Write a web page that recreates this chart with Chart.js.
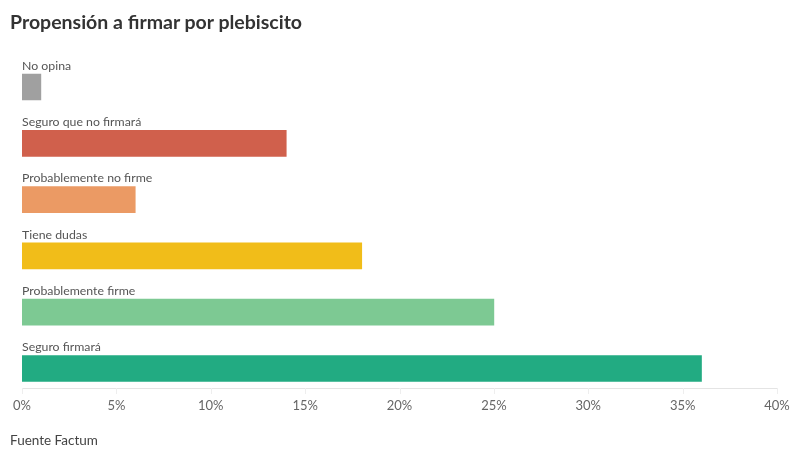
<!DOCTYPE html>
<html>
<head>
<meta charset="utf-8">
<script src="https://cdn.jsdelivr.net/npm/chart.js@4.4.1/dist/chart.umd.min.js"></script>
<style>
  html, body { margin: 0; padding: 0; background: #fff; }
  #wrap { position: relative; width: 800px; height: 459px; font-family: Lato, "Noto Sans", sans-serif; }
  #title { position: absolute; left: 10px; top: 10px; font-size: 19.5px; font-weight: bold; color: #333; }
  #source { position: absolute; left: 10px; top: 432px; font-size: 13.5px; color: #444; }
  canvas { position: absolute; left: 0; top: 0; }
</style>
</head>
<body>
<div id="wrap">
  <canvas id="myChart" width="800" height="459"></canvas>
  <div id="title">Propensión a firmar por plebiscito</div>
  <div id="source">Fuente Factum</div>
</div>
<script>
const categories = ['No opina', 'Seguro que no firmará', 'Probablemente no firme', 'Tiene dudas', 'Probablemente firme', 'Seguro firmará'];
const values = [1, 14, 6, 18, 25, 36];
const barColors = ['#a0a0a0', '#d0604c', '#eb9a64', '#f1bd19', '#7dc993', '#22ab82'];
const xTicks = [0, 5, 10, 15, 20, 25, 30, 35, 40];

// etiquetas encima de cada barra + linea del eje
const labelPlugin = {
    id: 'labelPlugin',
    afterDatasetsDraw(chart) {
        const ctx = chart.ctx;
        const area = chart.chartArea;
        const meta = chart.getDatasetMeta(0);
        ctx.save();
        ctx.font = '12.3px Lato, "Noto Sans", sans-serif';
        ctx.fillStyle = '#555';
        ctx.textAlign = 'left';
        ctx.textBaseline = 'bottom';
        meta.data.forEach((bar, i) => {
            ctx.fillText(categories[i], area.left, bar.y - bar.height / 2 - 2);
        });
        // eje x
        const axisY = area.bottom - 8.5;
        ctx.strokeStyle = '#e4e4e4';
        ctx.lineWidth = 1;
        ctx.beginPath();
        ctx.moveTo(area.left, Math.round(axisY) + 0.5);
        ctx.lineTo(area.right, Math.round(axisY) + 0.5);
        ctx.stroke();
        ctx.strokeStyle = '#eeeeee';
        xTicks.forEach(t => {
            const x = Math.round(chart.scales.x.getPixelForValue(t)) + 0.5;
            ctx.beginPath();
            ctx.moveTo(x, Math.round(axisY));
            ctx.lineTo(x, Math.round(axisY) + 6);
            ctx.stroke();
        });
        ctx.restore();
    }
};

const ctx = document.getElementById('myChart').getContext('2d');
const myChart = new Chart(ctx, {
    type: 'bar',
    data: {
        labels: categories,
        datasets: [{
            data: values,
            backgroundColor: barColors,
            borderWidth: 0,
            barThickness: 26
        }]
    },
    options: {
        indexAxis: 'y',
        responsive: false,
        animation: false,
        layout: {
            padding: { left: 22, right: 23, top: 58.85, bottom: 40.35 }
        },
        scales: {
            x: {
                min: 0,
                max: 40,
                afterBuildTicks(scale) {
                    scale.ticks = xTicks.map(v => ({ value: v }));
                },
                afterFit(scale) {
                    scale.height = 22;
                },
                grid: { display: false, drawTicks: false },
                border: { display: false },
                ticks: {
                    padding: 1,
                    color: '#666',
                    font: { family: 'Lato, "Noto Sans", sans-serif', size: 13 },
                    callback: v => v + '%'
                }
            },
            y: {
                display: false,
                offset: true
            }
        },
        plugins: {
            legend: { display: false },
            tooltip: { enabled: false }
        }
    },
    plugins: [labelPlugin]
});
</script>
</body>
</html>
